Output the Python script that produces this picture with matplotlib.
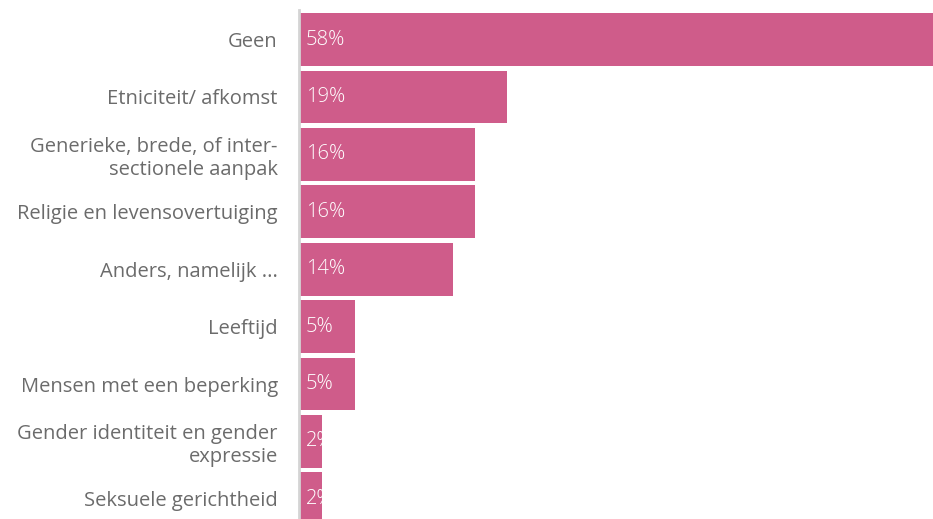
import matplotlib
matplotlib.use("Agg")
import matplotlib.pyplot as plt

# ── 数据 ─────────────────────────────────────────────
categories = [
    "Geen",
    "Etniciteit/ afkomst",
    "Generieke, brede, of inter-\nsectionele aanpak",
    "Religie en levensovertuiging",
    "Anders, namelijk ...",
    "Leeftijd",
    "Mensen met een beperking",
    "Gender identiteit en gender\nexpressie",
    "Seksuele gerichtheid",
]
values = [58, 19, 16, 16, 14, 5, 5, 2, 2]
value_labels = [f"{v}%" for v in values]

BAR_COLOR = "#CF5C8A"
TEXT_COLOR = "#6b6b6b"
AXIS_COLOR = "#d4d4d4"

plt.rcParams["font.family"] = ["Open Sans", "DejaVu Sans"]
FONT_W = 300
FONT_SIZE = 14.5

W, H = 933, 519
fig = plt.figure(figsize=(W / 100, H / 100), dpi=100)
# 左边线在 x=300px，顶部留 10px，底部直接贴边裁掉
ax = fig.add_axes([300 / W, 0, 633 / W, (H - 10) / H])

ypos = list(range(len(categories)))
bars = ax.barh(ypos, values, height=0.92, color=BAR_COLOR, zorder=2)

ax.set_xlim(0, 58)
ax.set_ylim(8.35, -0.514)

# 数值标签写在柱内，超出柱子的部分裁掉
for bar, lab in zip(bars, value_labels):
    t = ax.text(0.55, bar.get_y() + bar.get_height() / 2, lab,
                color="white", fontsize=FONT_SIZE, fontweight=FONT_W,
                va="center", ha="left", zorder=3)
    t.set_clip_path(bar)

ax.tick_params(axis="y", length=0, pad=15, labelsize=FONT_SIZE,
               labelcolor=TEXT_COLOR)
ax.set_yticks(ypos)
ax.set_yticklabels(categories)
for lbl in ax.get_yticklabels():
    lbl.set_fontweight(FONT_W)
    lbl.set_linespacing(1.35)
ax.set_xticks([])

for side in ["top", "right", "bottom"]:
    ax.spines[side].set_visible(False)
ax.spines["left"].set_color(AXIS_COLOR)
ax.spines["left"].set_linewidth(2)
ax.spines["left"].set_position(("outward", 1))

fig.savefig("out.png", dpi=100)
